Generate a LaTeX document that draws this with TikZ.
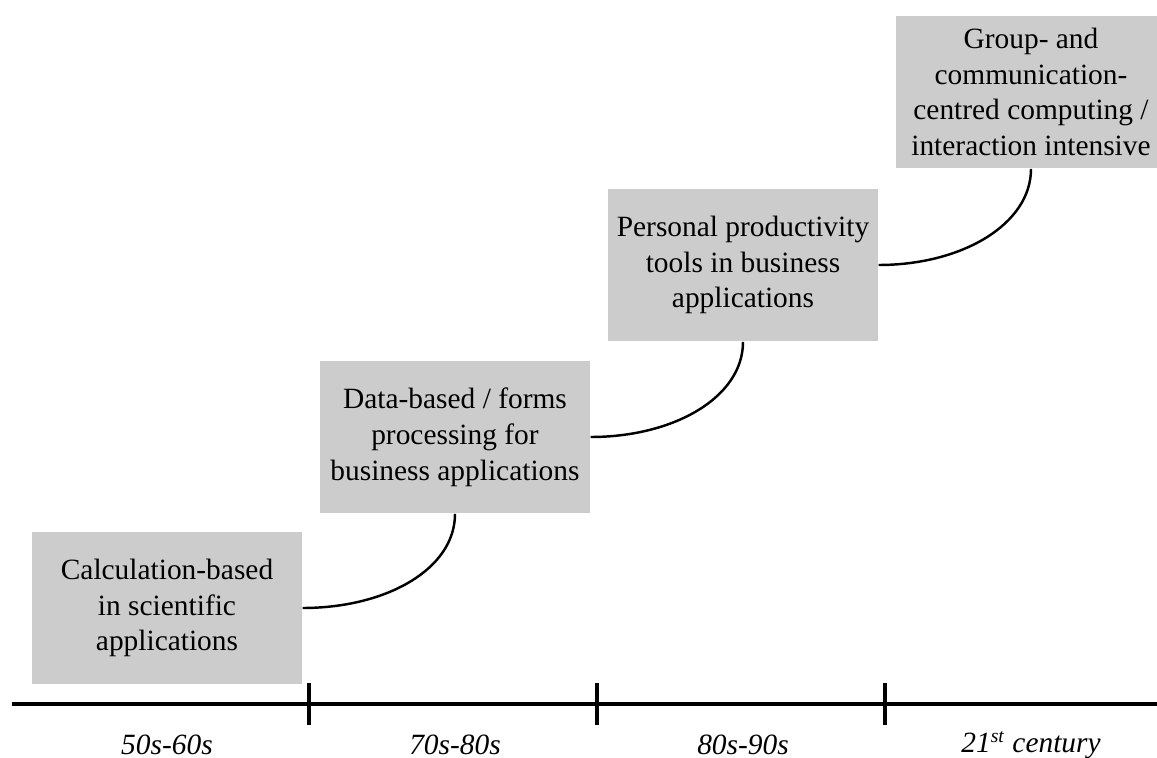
\documentclass[tikz,border=0pt]{standalone}
\usepackage{fontspec}
\setmainfont{Liberation Serif}
\usetikzlibrary{positioning}

\begin{document}
\begin{tikzpicture}[x=0.408pt,y=-0.408pt,
        stage/.style={fill=black!20,align=center,inner sep=0pt,
            minimum width=110.2pt,minimum height=62.4pt,
            font=\fontsize{12}{14.6}\selectfont},
        era/.style={inner sep=0pt,font=\fontsize{12}{14.6}\selectfont\itshape},
        link/.style={line width=1pt}]
    \useasboundingbox (0,0) rectangle (1157,758);

    % Stages
    \node[stage] (s1) at (167,608)  {Calculation-based\\in scientific\\applications};
    \node[stage] (s2) at (455,437)  {Data-based / forms\\processing for\\business applications};
    \node[stage] (s3) at (743,265)  {Personal productivity\\tools in business\\applications};
    \node[stage] (s4) at (1031,92)  {Group- and\\communication-\\centred computing /\\interaction intensive};

    \draw[link] (s1.east) .. controls +(84,0) and +(0,55) .. (s2.south);
    \draw[link] (s2.east) .. controls +(84,0) and +(0,55) .. (s3.south);
    \draw[link] (s3.east) .. controls +(84,0) and +(0,55) .. (s4.south);

    % Time axis
    \draw[line width=1.6pt] (12,704) -- (1157,704);
    \foreach \x in {309,597,885}
        \draw[line width=1.6pt] (\x,683) -- (\x,725);

    \node[era] (e1) at (167,745)  {50s-60s};
    \node[era] (e2) at (455,745)  {70s-80s};
    \node[era] (e3) at (743,745)  {80s-90s};
    \node[era] (e4) at (1031,745) {21\textsuperscript{st} century};
\end{tikzpicture}
\end{document}
